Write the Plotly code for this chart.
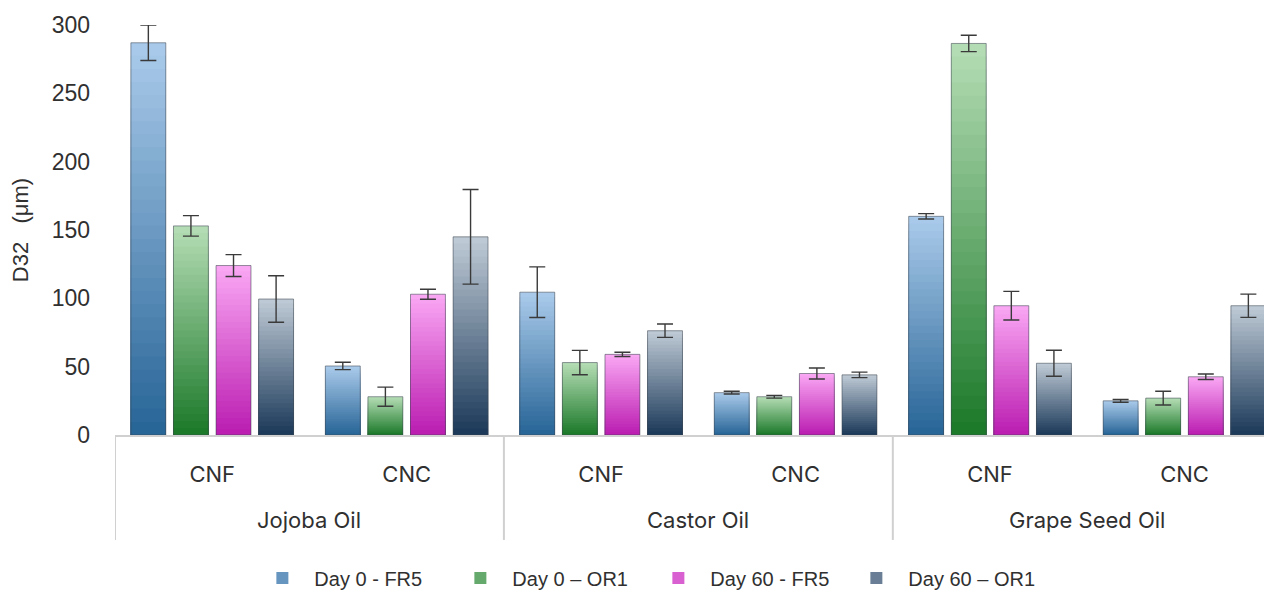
import plotly.graph_objects as go

# ---- data ----
oils = ["Jojoba Oil", "Castor Oil", "Grape Seed Oil"]
fillers = ["CNF", "CNC"]
series_names = ["Day 0 - FR5", "Day 0 \u2013 OR1", "Day 60 - FR5", "Day 60 \u2013 OR1"]
day0_fr5 = [287, 50.5, 104.5, 31, 160, 25]
day0_fr5_err = [13, 2.7, 18.5, 1, 2, 1]
day0_or1 = [153, 28, 53, 28, 286.5, 27]
day0_or1_err = [7.5, 7, 8.9, 1, 6, 5]
day60_fr5 = [124, 103, 59, 45, 94.6, 42.6]
day60_fr5_err = [8, 3.7, 1.6, 4, 10.5, 2]
day60_or1 = [99.5, 145, 76.3, 44, 52.5, 94.6]
day60_or1_err = [17, 34.6, 4.9, 2, 9.5, 8.5]

values = [day0_fr5, day0_or1, day60_fr5, day60_or1]
errors = [day0_fr5_err, day0_or1_err, day60_fr5_err, day60_or1_err]

# (top light colour, bottom dark colour)
palette = [
    ((171, 203, 235), (38, 100, 150)),
    ((182, 222, 182), (26, 120, 40)),
    ((250, 168, 244), (186, 28, 176)),
    ((192, 203, 214), (26, 56, 88)),
]

# category slots: one per (oil, filler)
inner = [f for _ in oils for f in fillers]
slots = list(range(len(inner)))

N_LAYERS = 30
LEGEND_LAYER = N_LAYERS // 2


def lerp(c1, c2, t):
    return "rgb(%d,%d,%d)" % tuple(round(a + (b - a) * t) for a, b in zip(c1, c2))


fig = go.Figure()
for i, (name, vals, errs) in enumerate(zip(series_names, values, errors)):
    top, bottom = palette[i]
    for k in range(N_LAYERS):
        frac = (N_LAYERS - k) / N_LAYERS
        t = (N_LAYERS - k - 0.5) / N_LAYERS
        fig.add_trace(go.Bar(
            x=slots, y=[v * frac for v in vals],
            offsetgroup=str(i), legendgroup=str(i),
            name=name, showlegend=(k == LEGEND_LAYER),
            marker=dict(color=lerp(bottom, top, t), line=dict(width=0)),
            hoverinfo="skip",
        ))
    # outline + error bars on top
    fig.add_trace(go.Bar(
        x=slots, y=vals, offsetgroup=str(i), legendgroup=str(i), name=name,
        showlegend=False,
        marker=dict(color="rgba(0,0,0,0)", line=dict(color="rgba(60,70,80,0.55)", width=1)),
        error_y=dict(type="data", array=errs, visible=True, color="#3a3a3a",
                     thickness=1.4, width=8),
    ))

# outer category level: oil names and group dividers
n_in = len(fillers)
AX_COL = "#d0d0d0"
CAT_FONT = dict(size=22, family="Inter, Noto Sans, sans-serif", color="#303030")
for g, oil in enumerate(oils):
    centre = (slots[g * n_in] + slots[g * n_in + n_in - 1]) / 2
    fig.add_annotation(x=centre, xref="x", y=-0.207, yref="paper", yanchor="middle",
                       text=oil, showarrow=False, font=CAT_FONT)
for g in range(len(oils) + 1):
    xd = g * n_in - 0.5
    fig.add_shape(type="line", xref="x", yref="paper", x0=xd, x1=xd, y0=0, y1=-0.256,
                  line=dict(color=AX_COL, width=2))

# the page body has an 8px margin, so the figure is shrunk by 8px and margins compensated
fig.update_layout(
    width=1264, height=582,
    paper_bgcolor="white", plot_bgcolor="white",
    margin=dict(l=107, r=0, t=17, b=155),
    barmode="group", bargap=0.124, bargroupgap=0.18,
    font=dict(family="Arial, Liberation Sans, sans-serif", color="#404040"),
    showlegend=True,
    legend=dict(orientation="h", x=0.117, xanchor="left", xref="paper",
                y=0.0206, yref="container", yanchor="middle",
                font=dict(size=20, family="Arial, Liberation Sans, sans-serif", color="#303030"),
                itemwidth=54, entrywidth=129, traceorder="normal"),
    xaxis=dict(
        range=[-0.5, 5.45],
        tickmode="array", tickvals=slots, ticktext=inner,
        showline=True, linecolor=AX_COL, linewidth=2,
        tickfont=CAT_FONT,
        ticklabelstandoff=19,
        showgrid=False, zeroline=False, automargin=False,
    ),
    yaxis=dict(
        range=[0, 300], dtick=50,
        showgrid=False, zeroline=False, showline=False,
        tickfont=dict(size=23, color="#303030"),
        ticklabelstandoff=24, automargin=False,
        title=dict(text="D32   (\u03bcm)", font=dict(size=22, color="#303030"), standoff=16),
    ),
)

fig.write_html("out.html")
